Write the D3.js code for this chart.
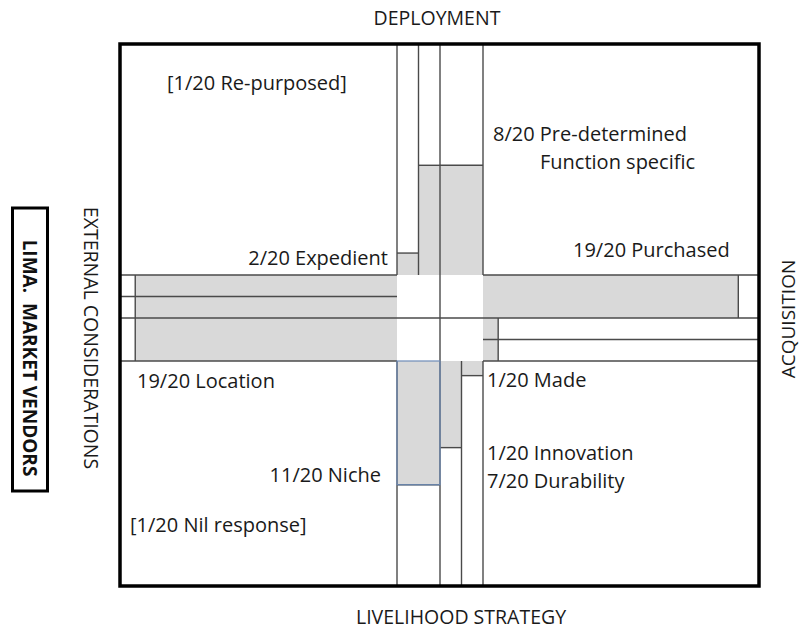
<!doctype html>
<html lang="en">
<head>
<meta charset="utf-8">
<title>Lima market vendors</title>
<script src="https://cdn.jsdelivr.net/npm/d3@7"></script>
<style>
  body { margin: 0; background: #fff; }
  svg { display: block; font-family: "Open Sans", "Liberation Sans", sans-serif; }
</style>
</head>
<body>
<svg id="chart" width="802" height="630"></svg>
<script>
// lane boundaries as fractions of the central square, bar lengths in "out of 20"
const topLanes = [0, 0.25, 0.5, 1];
const topBars = [1.9, 9.5, 9.5];
const bottomLanes = [0, 0.5, 0.75, 1];
const bottomBars = [11, 7.7, 1.3];
const leftLanes = [0, 0.25, 0.5, 1];
const leftBars = [18.9, 18.9, 18.9];
const rightLanes = [0, 0.5, 0.75, 1];
const rightBars = [18.5, 1.1, 1.1];

const axisTitles = ["DEPLOYMENT", "LIVELIHOOD STRATEGY", "EXTERNAL CONSIDERATIONS", "ACQUISITION"];
const panelTitle = "LIMA.  MARKET VENDORS";

const labels = [
  { text: "[1/20 Re-purposed]", x: 167, y: 83, anchor: "start" },
  { text: "8/20 Pre-determined", x: 493, y: 134, anchor: "start" },
  { text: "Function specific", x: 540, y: 162, anchor: "start" },
  { text: "2/20 Expedient", x: 388, y: 258, anchor: "end" },
  { text: "19/20 Purchased", x: 573, y: 250, anchor: "start" },
  { text: "19/20 Location", x: 137, y: 381, anchor: "start" },
  { text: "1/20 Made", x: 487, y: 380, anchor: "start" },
  { text: "1/20 Innovation", x: 487, y: 453, anchor: "start" },
  { text: "7/20 Durability", x: 487, y: 481, anchor: "start" },
  { text: "11/20 Niche", x: 381, y: 475, anchor: "end" },
  { text: "[1/20 Nil response]", x: 130, y: 525, anchor: "start" }
];

const box = { x0: 120, x1: 759, y0: 44, y1: 586 };
const core = { x0: 397, x1: 483, y0: 275, y1: 361 };
const GREY = "#d9d9d9";
const LINE = "#4a4a4a";

const svg = d3.select("#chart");

const laneX = d3.scaleLinear([0, 1], [core.x0, core.x1]);
const laneY = d3.scaleLinear([0, 1], [core.y0, core.y1]);
const topScale = d3.scaleLinear([0, 20], [core.y0, box.y0]);
const bottomScale = d3.scaleLinear([0, 20], [core.y1, box.y1]);
const leftScale = d3.scaleLinear([0, 20], [core.x0, box.x0]);
const rightScale = d3.scaleLinear([0, 20], [core.x1, box.x1]);

const bars = svg.append("g");
const lines = svg.append("g").attr("stroke", LINE).attr("stroke-width", 1.4).attr("fill", "none");

// vertical arms (top / bottom)
function verticalArm(lanes, values, scale) {
  values.forEach((v, i) => {
    const xa = laneX(lanes[i]), xb = laneX(lanes[i + 1]);
    const ya = scale(0), yb = scale(v);
    bars.append("rect")
      .attr("x", xa).attr("width", xb - xa)
      .attr("y", Math.min(ya, yb)).attr("height", Math.abs(yb - ya))
      .attr("fill", GREY);
    lines.append("line").attr("x1", xa).attr("x2", xb).attr("y1", yb).attr("y2", yb);
  });
  lanes.forEach(l => {
    lines.append("line").attr("x1", laneX(l)).attr("x2", laneX(l))
      .attr("y1", scale(0)).attr("y2", scale(20));
  });
}

function horizontalArm(lanes, values, scale) {
  values.forEach((v, i) => {
    const ya = laneY(lanes[i]), yb = laneY(lanes[i + 1]);
    const xa = scale(0), xb = scale(v);
    bars.append("rect")
      .attr("y", ya).attr("height", yb - ya)
      .attr("x", Math.min(xa, xb)).attr("width", Math.abs(xb - xa))
      .attr("fill", GREY);
    lines.append("line").attr("y1", ya).attr("y2", yb).attr("x1", xb).attr("x2", xb);
  });
  lanes.forEach(l => {
    lines.append("line").attr("y1", laneY(l)).attr("y2", laneY(l))
      .attr("x1", scale(0)).attr("x2", scale(20));
  });
}

verticalArm(topLanes, topBars, topScale);
verticalArm(bottomLanes, bottomBars, bottomScale);
horizontalArm(leftLanes, leftBars, leftScale);
horizontalArm(rightLanes, rightBars, rightScale);

// niche bar has a blue outline in the original
{
  const xa = laneX(bottomLanes[0]), xb = laneX(bottomLanes[1]);
  svg.append("rect")
    .attr("x", xa).attr("y", bottomScale(0))
    .attr("width", xb - xa).attr("height", bottomScale(bottomBars[0]) - bottomScale(0))
    .attr("fill", "none").attr("stroke", "#6e8cb8").attr("stroke-width", 1.2);
}

// central cross
lines.append("line").attr("x1", laneX(0.5)).attr("x2", laneX(0.5)).attr("y1", core.y0).attr("y2", core.y1);
lines.append("line").attr("x1", core.x0).attr("x2", core.x1).attr("y1", laneY(0.5)).attr("y2", laneY(0.5));

// outer frame
svg.append("rect")
  .attr("x", box.x0).attr("y", box.y0)
  .attr("width", box.x1 - box.x0).attr("height", box.y1 - box.y0)
  .attr("fill", "none").attr("stroke", "#000").attr("stroke-width", 3.5);

// labels
svg.append("g").selectAll("text").data(labels).join("text")
  .attr("x", d => d.x).attr("y", d => d.y)
  .attr("dy", "0.35em")
  .attr("text-anchor", d => d.anchor)
  .attr("font-size", 20)
  .attr("fill", "#1a1a1a")
  .text(d => d.text);

const titles = svg.append("g").attr("font-size", 19.5).attr("fill", "#1a1a1a").attr("text-anchor", "middle");
titles.append("text").attr("x", 437).attr("y", 18).attr("dy", "0.35em").text(axisTitles[0]);
titles.append("text").attr("x", 461).attr("y", 617).attr("dy", "0.35em").text(axisTitles[1]);
titles.append("text").attr("transform", "translate(91,338) rotate(90)").attr("dy", "0.35em").text(axisTitles[2]);
titles.append("text").attr("transform", "translate(788,319) rotate(-90)").attr("dy", "0.35em")
  .attr("font-size", 19).text(axisTitles[3]);

svg.append("rect")
  .attr("x", 12.5).attr("y", 208).attr("width", 35).attr("height", 283)
  .attr("fill", "none").attr("stroke", "#000").attr("stroke-width", 3);
svg.append("text")
  .attr("transform", "translate(30,358) rotate(90)")
  .attr("dy", "0.35em").attr("text-anchor", "middle")
  .attr("font-size", 19).attr("font-weight", "bold").attr("fill", "#111")
  .attr("xml:space", "preserve")
  .text(panelTitle);
</script>
</body>
</html>
